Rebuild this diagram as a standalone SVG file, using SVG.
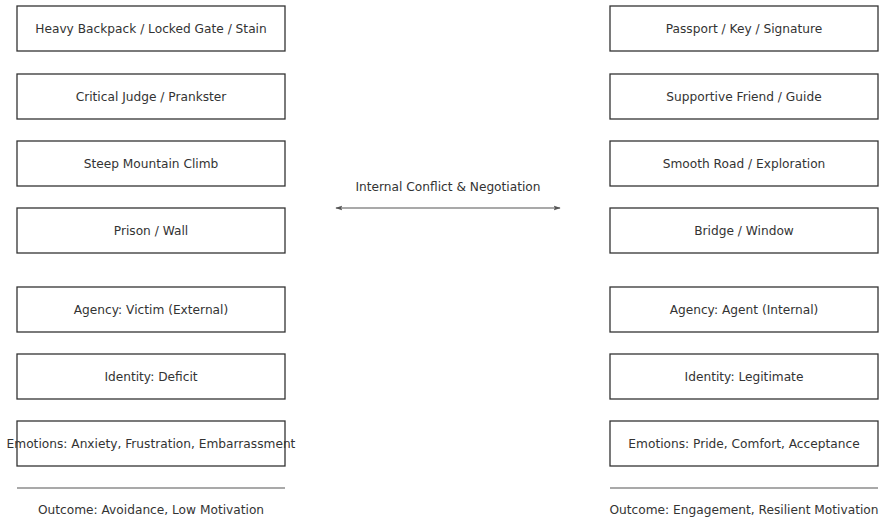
<svg xmlns="http://www.w3.org/2000/svg" width="883" height="521" viewBox="0 0 883 521">
<defs>
<style>
.box{fill:#fff;stroke:#333;stroke-width:1.3}
.t{font-family:"DejaVu Sans",sans-serif;font-size:12.2px;fill:#333;text-anchor:middle;dominant-baseline:central}
.ln{stroke:#555;stroke-width:1.2;fill:none}
</style>
<marker id="ah" viewBox="0 0 10 10" refX="9" refY="5" markerWidth="6" markerHeight="6" orient="auto-start-reverse">
<path d="M0,1.5 L10,5 L0,8.5 L2,5 z" fill="#555"/>
</marker>
</defs>
<rect width="883" height="521" fill="#fff"/>
<g id="L1"><rect class="box" x="17" y="6" width="268" height="45"/><text class="t" x="151" y="28.5">Heavy Backpack / Locked Gate / Stain</text></g>
<g id="L2"><rect class="box" x="17" y="74" width="268" height="45"/><text class="t" x="151" y="96.5">Critical Judge / Prankster</text></g>
<g id="L3"><rect class="box" x="17" y="141" width="268" height="45"/><text class="t" x="151" y="163.5">Steep Mountain Climb</text></g>
<g id="L4"><rect class="box" x="17" y="208" width="268" height="45"/><text class="t" x="151" y="230.5">Prison / Wall</text></g>
<g id="L5"><rect class="box" x="17" y="287" width="268" height="45"/><text class="t" x="151" y="309.5">Agency: Victim (External)</text></g>
<g id="L6"><rect class="box" x="17" y="354" width="268" height="45"/><text class="t" x="151" y="376.5">Identity: Deficit</text></g>
<g id="L7"><rect class="box" x="17" y="421" width="268" height="45"/><text class="t" x="151" y="443.5">Emotions: Anxiety, Frustration, Embarrassment</text></g>
<g id="LOut"><line class="ln" x1="17" y1="488" x2="285" y2="488"/><text class="t" x="151" y="510">Outcome: Avoidance, Low Motivation</text></g>
<g id="R1"><rect class="box" x="610" y="6" width="268" height="45"/><text class="t" x="744" y="28.5">Passport / Key / Signature</text></g>
<g id="R2"><rect class="box" x="610" y="74" width="268" height="45"/><text class="t" x="744" y="96.5">Supportive Friend / Guide</text></g>
<g id="R3"><rect class="box" x="610" y="141" width="268" height="45"/><text class="t" x="744" y="163.5">Smooth Road / Exploration</text></g>
<g id="R4"><rect class="box" x="610" y="208" width="268" height="45"/><text class="t" x="744" y="230.5">Bridge / Window</text></g>
<g id="R5"><rect class="box" x="610" y="287" width="268" height="45"/><text class="t" x="744" y="309.5">Agency: Agent (Internal)</text></g>
<g id="R6"><rect class="box" x="610" y="354" width="268" height="45"/><text class="t" x="744" y="376.5">Identity: Legitimate</text></g>
<g id="R7"><rect class="box" x="610" y="421" width="268" height="45"/><text class="t" x="744" y="443.5">Emotions: Pride, Comfort, Acceptance</text></g>
<g id="ROut"><line class="ln" x1="610" y1="488" x2="878" y2="488"/><text class="t" x="744" y="510">Outcome: Engagement, Resilient Motivation</text></g>
<g id="connectors">
<line class="ln" x1="336" y1="208" x2="560" y2="208" marker-start="url(#ah)" marker-end="url(#ah)"/>
<text class="t" x="448" y="187">Internal Conflict &amp; Negotiation</text>
</g>
</svg>
